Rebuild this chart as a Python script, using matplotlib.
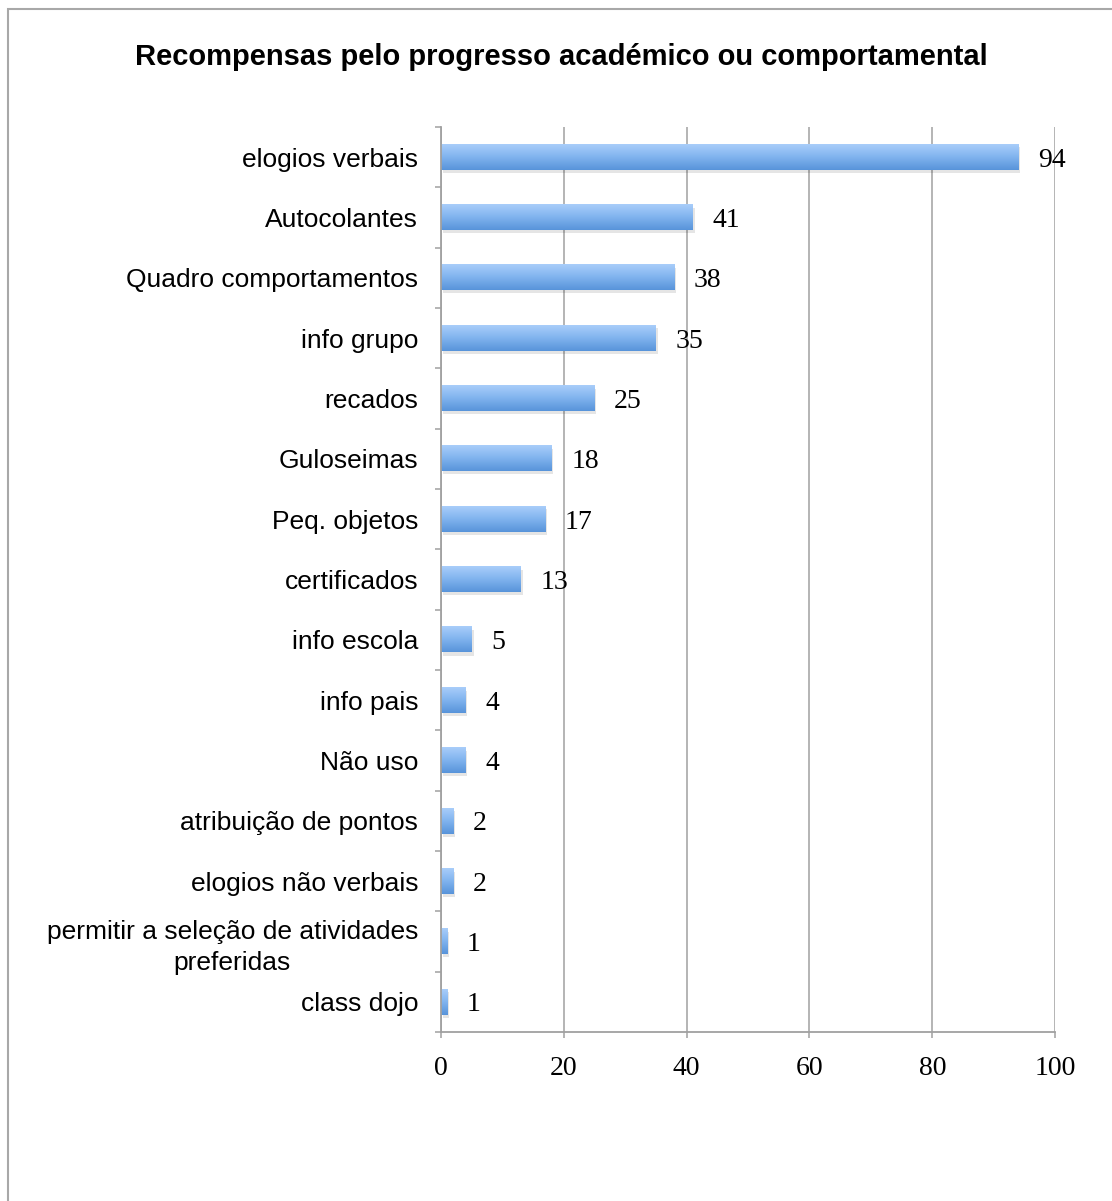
import numpy as np
import matplotlib
matplotlib.use("Agg")
import matplotlib.pyplot as plt
from matplotlib.colors import LinearSegmentedColormap
from matplotlib.patches import Rectangle

# data, top to bottom as in the chart
categories = ["elogios verbais", "Autocolantes", "Quadro comportamentos", "info grupo",
              "recados", "Guloseimas", "Peq. objetos", "certificados", "info escola",
              "info pais", "Não uso", "atribuição de pontos", "elogios não verbais",
              "permitir a seleção de atividades\npreferidas", "class dojo"]
values = [94, 41, 38, 35, 25, 18, 17, 13, 5, 4, 4, 2, 2, 1, 1]
xticks = [0, 20, 40, 60, 80, 100]
title = "Recompensas pelo progresso académico ou comportamental"

fig = plt.figure(figsize=(11.12, 12.01), dpi=100)
ax = fig.add_axes([0.3966, 0.1407, 0.5522, 0.7536])

n = len(categories)
ypos = np.arange(n)[::-1]
h = 0.42
grey = "#a0a0a0"

cmap = LinearSegmentedColormap.from_list("bar", ["#a9cdfa", "#80b3ee", "#5894da"])
grad = np.linspace(0, 1, 64).reshape(-1, 1)

for y, v in zip(ypos, values):
    # soft shadow
    ax.add_patch(Rectangle((0.3, y - h / 2 - 0.05), v, h, color="#000000", alpha=0.10,
                           lw=0, zorder=2))
    ax.imshow(grad, cmap=cmap, extent=(0, v, y - h / 2, y + h / 2), origin="upper",
              aspect="auto", zorder=3)
    ax.text(v + 3.2, y - 0.05, str(v), va="center", ha="left", fontsize=20,
            family="Liberation Serif", zorder=4)

ax.set_xlim(0, 100)
ax.set_ylim(-0.5, n - 0.5)
ax.set_xticks(xticks)
ax.set_xticklabels([str(t) for t in xticks], family="Liberation Serif", fontsize=20)
ax.set_yticks(ypos)
ax.set_yticklabels(categories, family="Liberation Sans", fontsize=19,
                   multialignment="center", linespacing=1.35)
ax.set_yticks(np.arange(n + 1) - 0.5, minor=True)

ax.tick_params(axis="y", which="major", length=0, pad=16.5)
ax.tick_params(axis="y", which="minor", length=4.5, width=1.1, color=grey, direction="out")
ax.tick_params(axis="x", which="major", length=4.5, width=1.1, color=grey, pad=13)

ax.grid(axis="x", color=grey, lw=1.1, zorder=1)
ax.set_axisbelow(True)
for s in ["top", "right"]:
    ax.spines[s].set_visible(False)
for s in ["left", "bottom"]:
    ax.spines[s].set_color(grey)
    ax.spines[s].set_linewidth(1.3)
    ax.spines[s].set_zorder(5)

fig.text(0.5045, 1 - 57 / 1201, title, ha="center", va="center", fontsize=21,
         fontweight="bold", family="Liberation Sans")

fig.patches.append(Rectangle((8 / 1112, -0.1), 1.2, (1201 - 9) / 1201 + 0.1,
                             transform=fig.transFigure, fill=False, ec="#a8a8a8", lw=1.5))

fig.savefig("out.png", dpi=100)
